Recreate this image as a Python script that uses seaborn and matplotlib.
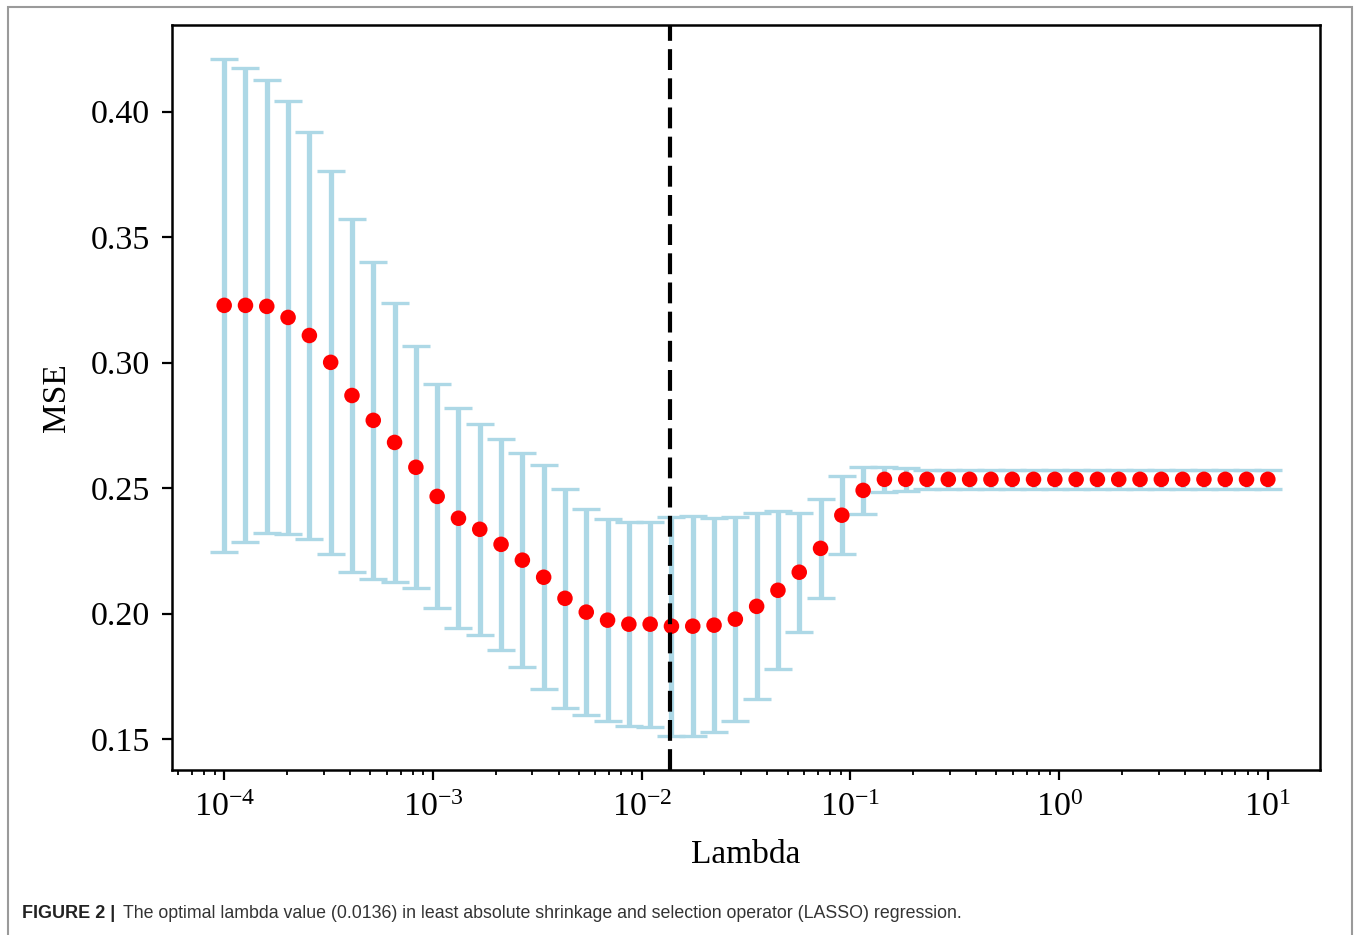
import numpy as np
import pandas as pd
import matplotlib
matplotlib.use("Agg")
import matplotlib.pyplot as plt
import seaborn as sns
from matplotlib.patches import Rectangle

# ---- data ----
lambdas = np.logspace(-4, 1, 50)
mse_mean = [0.3228, 0.3228, 0.3224, 0.3180, 0.3108, 0.3001, 0.2869, 0.2770, 0.2682, 0.2583,
            0.2467, 0.2380, 0.2336, 0.2276, 0.2213, 0.2145, 0.2061, 0.2006, 0.1974, 0.1958,
            0.1958, 0.1950, 0.1950, 0.1954, 0.1978, 0.2029, 0.2093, 0.2165, 0.2260, 0.2392,
            0.2491, 0.2535, 0.2535, 0.2535, 0.2535, 0.2535, 0.2535, 0.2535, 0.2535, 0.2535,
            0.2535, 0.2535, 0.2535, 0.2535, 0.2535, 0.2535, 0.2535, 0.2535, 0.2535, 0.2535]
mse_err = [0.0982, 0.0944, 0.0901, 0.0862, 0.0811, 0.0762, 0.0703, 0.0631, 0.0555, 0.0482,
           0.0446, 0.0438, 0.0420, 0.0421, 0.0426, 0.0446, 0.0435, 0.0409, 0.0401, 0.0406,
           0.0408, 0.0436, 0.0438, 0.0426, 0.0406, 0.0371, 0.0314, 0.0237, 0.0196, 0.0155,
           0.0093, 0.0049, 0.0045, 0.0039, 0.0039, 0.0039, 0.0039, 0.0039, 0.0039, 0.0039,
           0.0039, 0.0039, 0.0039, 0.0039, 0.0039, 0.0039, 0.0039, 0.0039, 0.0039, 0.0039]
best_lambda = 0.0136
y_ticks = [0.15, 0.20, 0.25, 0.30, 0.35, 0.40]
x_label = "Lambda"
y_label = "MSE"
caption_bold = "FIGURE 2 |"
caption_text = "The optimal lambda value (0.0136) in least absolute shrinkage and selection operator (LASSO) regression."

df = pd.DataFrame({"lambda": lambdas, "mse": mse_mean, "err": mse_err})

sns.set_theme(style="ticks")
plt.rcParams["font.family"] = ["Liberation Serif", "DejaVu Serif"]
plt.rcParams["mathtext.fontset"] = "stix"
plt.rcParams["text.color"] = "black"
plt.rcParams["axes.labelcolor"] = "black"
plt.rcParams["xtick.color"] = "black"
plt.rcParams["ytick.color"] = "black"

fig = plt.figure(figsize=(13.6, 9.35), dpi=100)
ax = fig.add_axes([172 / 1360, 1 - 770 / 935, (1320 - 172) / 1360, (770 - 25) / 935])

ax.errorbar(df["lambda"], df["mse"], yerr=df["err"], fmt="none",
            ecolor="lightblue", elinewidth=3.8, capsize=10, capthick=2.4, zorder=1)
sns.scatterplot(data=df, x="lambda", y="mse", ax=ax, color="red", s=125,
                edgecolor="none", zorder=3, legend=False)
ax.axvline(best_lambda, color="black", lw=3, ls=(0, (5, 2)), zorder=4)

ax.set_xscale("log")
ax.set_yticks(y_ticks)
ax.set_yticklabels([f"{v:.2f}" for v in y_ticks])
ax.set_xlabel(x_label, fontsize=24, labelpad=12)
ax.set_ylabel(y_label, fontsize=24, labelpad=13)
ax.tick_params(axis="both", which="major", labelsize=24.5, length=7, width=1.6,
               color="black", labelcolor="black", direction="out")
ax.tick_params(axis="y", which="major", pad=9)
ax.tick_params(axis="x", which="major", pad=9)
ax.tick_params(axis="x", which="minor", length=3.5, width=1.3, color="black")
for sp in ax.spines.values():
    sp.set_visible(True)
    sp.set_linewidth(1.8)
    sp.set_color("black")
ax.grid(False)

# figure frame and caption
fig.patches.append(Rectangle((8 / 1360, -0.02), (1352 - 8) / 1360, 1.02 - 7 / 935,
                             transform=fig.transFigure, fill=False,
                             edgecolor="#9a9a9a", lw=1.5))
fig.text(22 / 1360, 1 - 914 / 935, caption_bold, fontsize=13, fontweight="bold",
         family=["Liberation Sans", "DejaVu Sans"], va="center", ha="left", color="#222222")
fig.text(123 / 1360, 1 - 914 / 935, caption_text, fontsize=12.8,
         family=["Liberation Sans", "DejaVu Sans"], va="center", ha="left", color="#333333")

fig.savefig("out.png", dpi=100)
